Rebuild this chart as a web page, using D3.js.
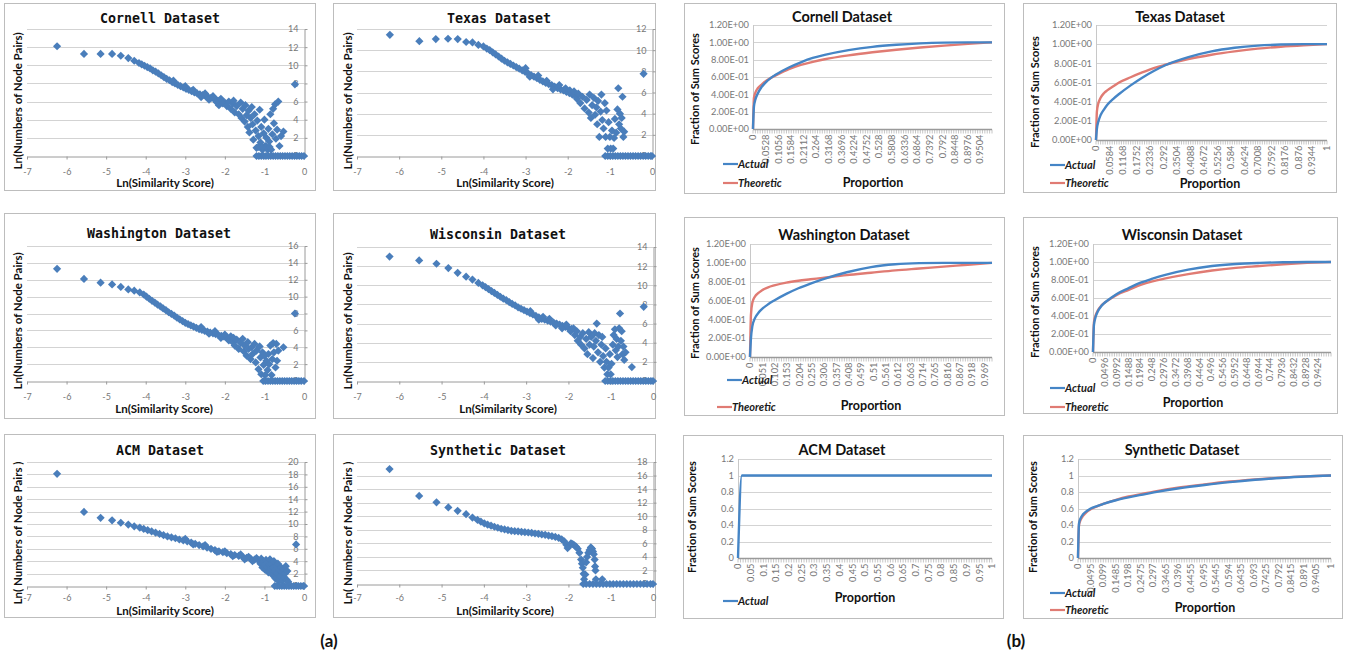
<!DOCTYPE html>
<html>
<head>
<meta charset="utf-8">
<script src="https://cdn.jsdelivr.net/npm/d3@7"></script>
<style>
  body { margin: 0; background: #fff; }
  text { font-family: Lato, "Open Sans", sans-serif; }
</style>
</head>
<body>
<svg id="fig" width="1356" height="659"></svg>
<script>
// ---- (a) scatter data: [ln(similarity score), ln(number of node pairs)] ----
const cornellPts = [
  [-6.24,12.1],[-5.56,11.25],[-5.14,11.25],[-4.85,11.25],[-4.63,11.05],[-4.44,10.8],[-4.29,10.5],
  [-4.17,10.25],[-4.1,10.1],[-4.03,9.95],[-3.96,9.8],[-3.89,9.65],[-3.82,9.45],[-3.75,9.3],[-3.68,9.1],
  [-3.61,8.9],[-3.54,8.7],[-3.47,8.5],[-3.4,8.35],[-3.33,8.15],[-3.26,8.0],[-3.19,7.85],[-3.12,7.7],
  [-3.05,7.55],[-2.98,7.4],[-2.91,7.3],[-2.84,7.15],[-2.77,7.0],[-2.7,6.9],[-2.63,6.8],[-2.56,6.7],
  [-2.49,6.6],[-2.42,6.5],[-2.35,6.4],[-2.28,6.3],[-2.21,6.2],[-2.14,6.1],[-2.07,6.0],[-2.0,5.9],
  [-3.3,8.3],[-3.0,7.7],[-2.8,7.3],[-2.6,6.5],[-2.5,6.9],[-2.4,6.2],[-2.3,6.6],[-2.2,5.9],[-2.1,6.3],
  [-2.15,5.6],[-2.05,5.8],[-1.95,5.5],[-1.9,6.0],[-1.85,5.2],[-1.8,5.8],[-1.78,6.1],[-1.75,4.8],
  [-1.7,5.5],[-1.65,4.6],[-1.6,5.9],[-1.58,4.2],[-1.55,5.2],[-1.5,3.8],[-1.48,5.6],[-1.45,4.5],
  [-1.42,3.2],[-1.4,5.0],[-1.38,2.6],[-1.35,4.2],[-1.32,5.4],[-1.3,3.5],[-1.28,1.8],[-1.25,4.6],
  [-1.22,2.8],[-1.2,0.9],[-1.18,3.9],[-1.15,2.2],[-1.12,5.1],[-1.1,1.5],[-1.08,3.2],[-1.05,0.7],
  [-1.02,2.5],[-1.0,4.0],[-0.98,1.1],[-0.95,2.0],[-0.92,0.7],[-0.9,3.0],[-0.88,1.6],[-0.85,4.6],
  [-0.83,0.7],[-0.8,2.4],[-0.78,5.2],[-0.76,3.6],[-0.73,5.7],[-0.71,1.9],[-0.68,2.9],[-0.65,6.0],
  [-0.62,1.1],[-0.58,2.2],[-0.52,2.7],[-1.15,1.0],[-1.05,1.0],[-0.95,1.0],[-0.87,1.0],[-0.23,7.9]
];
const cornellZeros = [-1.2,-1.14,-1.08,-1.02,-0.96,-0.9,-0.84,-0.78,-0.72,-0.66,-0.6,-0.54,-0.48,-0.42,-0.36,-0.3,-0.24,-0.18,-0.12,-0.06,0];

const texasPts = [
  [-6.22,11.45],[-5.52,10.85],[-5.13,11.05],[-4.84,11.08],[-4.61,11.05],[-4.41,10.77],[-4.26,10.73],
  [-4.12,10.5],[-4.0,10.35],[-3.92,10.15],[-3.85,10.0],[-3.78,9.8],[-3.71,9.6],[-3.64,9.4],[-3.57,9.2],
  [-3.5,9.0],[-3.43,8.85],[-3.36,8.7],[-3.29,8.55],[-3.22,8.4],[-3.15,8.25],[-3.08,8.1],[-3.01,7.95],
  [-2.94,7.8],[-2.87,7.65],[-2.8,7.5],[-2.73,7.35],[-2.66,7.2],[-2.59,7.05],[-2.52,6.9],[-2.45,6.8],
  [-2.38,6.7],[-2.31,6.55],[-2.24,6.4],[-2.17,6.3],[-2.1,6.2],[-2.03,6.05],[-1.96,5.95],[-1.89,5.8],
  [-1.82,5.7],[-3.0,8.3],[-2.9,7.5],[-2.7,7.6],[-2.5,7.1],[-2.35,6.3],[-2.2,6.7],[-2.05,6.4],
  [-1.95,6.2],[-1.85,6.1],[-1.78,5.4],[-1.75,5.9],[-1.7,5.0],[-1.65,5.6],[-1.6,4.5],[-1.55,5.3],
  [-1.5,4.1],[-1.48,5.8],[-1.45,3.6],[-1.42,4.8],[-1.38,5.5],[-1.35,3.9],[-1.32,4.6],[-1.3,3.0],
  [-1.28,5.2],[-1.25,1.8],[-1.22,4.2],[-1.2,5.8],[-1.18,3.4],[-1.15,2.6],[-1.12,5.0],[-1.1,1.8],
  [-1.08,4.3],[-1.05,0.7],[-1.03,3.2],[-1.0,1.8],[-0.98,0.7],[-0.95,2.4],[-0.92,0.7],[-0.9,1.7],
  [-0.88,3.5],[-0.85,2.2],[-0.82,4.4],[-0.8,6.4],[-0.78,3.0],[-0.76,4.0],[-0.74,2.6],[-0.72,3.6],
  [-0.7,5.6],[-0.68,1.8],[-0.66,2.3],[-0.2,7.76]
];
const texasZeros = [-1.11,-1.05,-0.99,-0.93,-0.87,-0.81,-0.75,-0.69,-0.63,-0.57,-0.51,-0.45,-0.39,-0.33,-0.27,-0.21,-0.15,-0.09,-0.03,0];

const washPts = [
  [-6.24,13.3],[-5.56,12.1],[-5.14,11.65],[-4.85,11.45],[-4.63,11.15],[-4.44,10.85],[-4.29,10.7],
  [-4.15,10.5],[-4.05,10.25],[-3.98,10.0],[-3.91,9.75],[-3.84,9.5],[-3.77,9.3],[-3.7,9.05],[-3.63,8.85],
  [-3.56,8.6],[-3.49,8.4],[-3.42,8.15],[-3.35,7.95],[-3.28,7.75],[-3.21,7.5],[-3.14,7.3],[-3.07,7.1],
  [-3.0,6.9],[-2.93,6.75],[-2.86,6.6],[-2.79,6.45],[-2.72,6.3],[-2.65,6.15],[-2.58,6.05],[-2.51,5.95],
  [-2.44,5.85],[-2.37,5.75],[-2.3,5.65],[-2.23,5.55],[-2.16,5.45],[-2.09,5.35],[-2.02,5.25],[-1.95,5.15],
  [-2.6,6.4],[-2.4,5.6],[-2.25,5.9],[-2.1,5.1],[-2.0,5.5],[-1.9,4.8],[-1.85,5.3],
  [-1.8,4.6],[-1.78,5.1],[-1.75,4.2],[-1.7,4.9],[-1.65,3.8],[-1.6,4.5],[-1.55,5.0],[-1.52,3.5],
  [-1.5,4.2],[-1.45,3.0],[-1.42,4.6],[-1.4,3.8],[-1.35,2.6],[-1.32,4.0],[-1.3,3.2],[-1.25,4.4],
  [-1.22,2.2],[-1.2,3.6],[-1.15,1.4],[-1.12,4.1],[-1.1,2.8],[-1.08,0.8],[-1.05,3.4],[-1.02,1.9],
  [-1.0,3.0],[-0.98,0.7],[-0.95,2.4],[-0.92,1.3],[-0.9,3.2],[-0.88,2.0],[-0.85,4.2],[-0.82,0.7],
  [-0.8,2.6],[-0.78,4.5],[-0.76,3.4],[-0.72,1.6],[-0.7,4.4],[-0.68,2.4],[-0.65,3.6],[-0.52,4.0],
  [-0.23,8.0]
];
const washZeros = [-1.03,-0.97,-0.91,-0.85,-0.79,-0.73,-0.67,-0.61,-0.55,-0.49,-0.43,-0.37,-0.31,-0.25,-0.19,-0.13,-0.07,0];

const wiscPts = [
  [-6.23,13.0],[-5.53,12.6],[-5.12,12.25],[-4.84,11.8],[-4.62,11.3],[-4.42,10.9],[-4.27,10.6],
  [-4.13,10.25],[-4.03,10.0],[-3.96,9.8],[-3.89,9.6],[-3.82,9.4],[-3.75,9.2],[-3.68,9.0],[-3.61,8.8],
  [-3.54,8.6],[-3.47,8.45],[-3.4,8.25],[-3.33,8.05],[-3.26,7.9],[-3.19,7.7],[-3.12,7.55],[-3.05,7.4],
  [-2.98,7.25],[-2.91,7.1],[-2.84,6.95],[-2.77,6.8],[-2.7,6.65],[-2.63,6.5],[-2.56,6.4],[-2.49,6.3],
  [-2.42,6.2],[-2.35,6.1],[-2.28,6.0],[-2.21,5.9],[-2.14,5.75],[-2.07,5.65],[-2.0,5.55],[-1.93,5.45],
  [-2.9,7.3],[-2.7,6.4],[-2.6,6.7],[-2.45,6.5],[-2.3,5.8],[-2.15,5.5],[-2.05,5.9],[-1.95,5.2],[-1.88,5.5],
  [-1.85,4.8],[-1.8,5.2],[-1.78,4.2],[-1.72,4.6],[-1.7,3.8],[-1.66,5.0],[-1.62,3.4],[-1.58,4.4],
  [-1.55,2.8],[-1.52,5.1],[-1.5,3.8],[-1.46,4.6],[-1.42,2.4],[-1.4,3.6],[-1.38,5.0],[-1.35,4.2],
  [-1.33,6.0],[-1.3,3.0],[-1.28,4.8],[-1.25,2.0],[-1.22,3.8],[-1.2,4.6],[-1.18,2.6],[-1.15,1.4],
  [-1.12,3.4],[-1.1,2.0],[-1.08,0.7],[-1.05,1.4],[-1.02,2.8],[-1.0,0.7],[-0.98,1.8],[-0.95,3.8],
  [-0.93,4.8],[-0.9,5.4],[-0.88,3.2],[-0.86,4.4],[-0.84,2.5],[-0.82,3.6],[-0.8,5.5],[-0.78,7.05],
  [-0.76,4.2],[-0.74,5.2],[-0.72,2.8],[-0.7,3.6],[-0.68,2.2],[-0.65,3.0],[-0.5,1.45],[-0.22,7.75]
];
const wiscZeros = [-1.13,-1.07,-1.01,-0.95,-0.89,-0.83,-0.77,-0.71,-0.65,-0.59,-0.53,-0.47,-0.41,-0.35,-0.29,-0.23,-0.17,-0.11,-0.05,0];

const acmPts = [
  [-6.24,18.1],[-5.56,11.95],[-5.14,11.0],[-4.85,10.6],[-4.63,10.2],[-4.44,9.9],[-4.29,9.62],
  [-4.15,9.4],[-4.05,9.2],[-3.95,9.0],[-3.85,8.8],[-3.75,8.6],[-3.65,8.4],[-3.55,8.2],[-3.45,8.0],
  [-3.35,7.85],[-3.25,7.7],[-3.15,7.5],[-3.05,7.35],[-2.95,7.2],[-2.85,7.0],[-2.75,6.8],[-2.65,6.6],
  [-2.55,6.4],[-2.45,6.2],[-2.35,6.0],[-2.25,5.8],[-2.15,5.6],[-2.05,5.45],[-1.95,5.3],[-1.85,5.15],
  [-1.75,5.0],[-1.65,4.85],[-1.55,4.7],[-1.45,4.55],[-1.35,4.4],[-1.25,4.25],[-1.15,4.1],
  [-3.0,7.6],[-2.8,6.7],[-2.5,6.6],[-2.2,5.5],[-2.0,5.6],[-1.8,4.8],[-1.6,5.1],[-1.5,4.3],[-1.4,4.7],
  [-1.3,4.0],[-1.2,4.5],[-1.1,3.6],[-1.08,4.4],[-1.05,3.0],[-1.02,4.0],[-1.0,3.4],[-0.98,2.6],
  [-0.96,4.2],[-0.94,3.0],[-0.92,3.8],[-0.9,2.2],[-0.88,3.4],[-0.86,4.3],[-0.84,2.8],[-0.82,3.6],
  [-0.8,1.8],[-0.78,3.0],[-0.76,4.0],[-0.74,2.4],[-0.72,1.2],[-0.7,3.2],[-0.68,2.0],[-0.66,3.6],
  [-0.64,0.8],[-0.62,2.6],[-0.6,1.6],[-0.58,3.0],[-0.56,2.2],[-0.54,0.9],[-0.52,2.8],[-0.5,1.4],
  [-0.48,2.0],[-0.46,3.2],[-0.44,1.0],[-0.42,2.4],[-0.4,0.7],[-0.2,6.7]
];
const acmZeros = [-0.74,-0.68,-0.62,-0.56,-0.5,-0.44,-0.38,-0.32,-0.26,-0.2,-0.14,-0.08,-0.02,0];

const synthPts = [
  [-6.23,16.95],[-5.53,13.0],[-5.12,12.05],[-4.84,11.3],[-4.62,10.8],[-4.42,10.3],[-4.27,9.8],
  [-4.15,9.45],[-4.07,9.2],[-3.99,8.95],[-3.91,8.75],[-3.83,8.6],[-3.75,8.45],[-3.67,8.3],[-3.59,8.15],
  [-3.51,8.05],[-3.43,7.95],[-3.35,7.85],[-3.27,7.8],[-3.19,7.75],[-3.11,7.7],[-3.03,7.65],[-2.95,7.6],
  [-2.87,7.55],[-2.79,7.45],[-2.71,7.4],[-2.63,7.3],[-2.55,7.25],[-2.47,7.15],[-2.39,7.05],[-2.31,6.95],
  [-2.23,6.8],[-2.16,6.6],[-2.1,6.3],[-2.05,5.8],[-2.02,5.3],[-1.98,5.6],[-1.94,6.0],[-1.9,5.9],
  [-1.86,5.7],[-1.82,5.5],[-1.78,5.2],[-1.74,4.6],[-1.7,3.6],[-1.68,3.0],[-1.66,2.4],[-1.64,1.5],
  [-1.63,0.7],[-1.6,1.4],[-1.58,3.2],[-1.56,4.0],[-1.53,4.6],[-1.5,5.0],[-1.47,5.4],[-1.44,5.2],
  [-1.42,4.8],[-1.4,4.4],[-1.38,3.6],[-1.37,2.6],[-1.36,2.0],[-1.35,0.7],[-1.2,0.7]
];
const synthZeros = [-1.65,-1.58,-1.5,-1.42,-1.34,-1.26,-1.18,-1.1,-1.02,-0.94,-0.86,-0.78,-0.7,-0.62,-0.54,-0.46,-0.38,-0.3,-0.22,-0.14,-0.06,0];

const scatterXTicks = [-7,-6,-5,-4,-3,-2,-1,0];

// ---- (b) cumulative curves: fraction of sum scores vs proportion ----
const propX = [0, 0.004, 0.01, 0.02, 0.035, 0.05, 0.075, 0.1, 0.15, 0.2, 0.25, 0.3, 0.4, 0.5, 0.6, 0.7, 0.8, 0.9, 1];
const cornellActual    = [0, 0.26, 0.34, 0.41, 0.48, 0.53, 0.59, 0.635, 0.71, 0.77, 0.82, 0.855, 0.91, 0.948, 0.972, 0.988, 0.997, 1.0, 1.0];
const cornellTheoretic = [0, 0.36, 0.42, 0.47, 0.51, 0.545, 0.59, 0.625, 0.69, 0.74, 0.775, 0.805, 0.85, 0.885, 0.915, 0.94, 0.962, 0.982, 1.0];
const texasActual      = [0, 0.12, 0.19, 0.26, 0.32, 0.37, 0.43, 0.48, 0.57, 0.65, 0.72, 0.78, 0.865, 0.925, 0.962, 0.985, 0.996, 1.0, 1.0];
const texasTheoretic   = [0, 0.3, 0.38, 0.44, 0.49, 0.52, 0.56, 0.6, 0.655, 0.705, 0.75, 0.785, 0.845, 0.89, 0.925, 0.953, 0.973, 0.988, 1.0];
const washActual       = [0, 0.2, 0.33, 0.41, 0.47, 0.51, 0.56, 0.6, 0.67, 0.73, 0.78, 0.825, 0.9, 0.955, 0.985, 0.997, 1.0, 1.0, 1.0];
const washTheoretic    = [0, 0.45, 0.58, 0.64, 0.68, 0.71, 0.74, 0.76, 0.79, 0.81, 0.825, 0.84, 0.87, 0.895, 0.92, 0.94, 0.96, 0.98, 1.0];
const wiscActual       = [0, 0.3, 0.38, 0.45, 0.51, 0.55, 0.6, 0.645, 0.71, 0.77, 0.815, 0.855, 0.915, 0.955, 0.978, 0.99, 0.997, 1.0, 1.0];
const wiscTheoretic    = [0, 0.33, 0.4, 0.46, 0.515, 0.55, 0.595, 0.635, 0.69, 0.745, 0.785, 0.815, 0.865, 0.905, 0.935, 0.955, 0.975, 0.99, 1.0];
const synthActual      = [0, 0.42, 0.48, 0.53, 0.57, 0.6, 0.63, 0.655, 0.7, 0.735, 0.765, 0.795, 0.845, 0.885, 0.92, 0.948, 0.97, 0.988, 1.0];
const synthTheoretic   = [0, 0.4, 0.46, 0.51, 0.56, 0.59, 0.625, 0.655, 0.705, 0.745, 0.775, 0.805, 0.855, 0.893, 0.927, 0.953, 0.974, 0.99, 1.0];
const acmX      = [0, 0.015, 1];
const acmActual = [0, 1, 1];

const cornellTicks = ["0","0.0528","0.1056","0.1584","0.2112","0.264","0.3168","0.3696","0.4224","0.4752","0.528","0.5808","0.6336","0.6864","0.7392","0.792","0.8448","0.8976","0.9504"];
const texasTicks = ["0","0.0584","0.1168","0.1752","0.2336","0.292","0.3504","0.4088","0.4672","0.5256","0.584","0.6424","0.7008","0.7592","0.8176","0.876","0.9344","1"];
const washTicks = ["0","0.051","0.102","0.153","0.204","0.255","0.306","0.357","0.408","0.459","0.51","0.561","0.612","0.663","0.714","0.765","0.816","0.867","0.918","0.969"];
const wiscTicks = ["0","0.0496","0.0992","0.1488","0.1984","0.248","0.2976","0.3472","0.3968","0.4464","0.496","0.5456","0.5952","0.6448","0.6944","0.744","0.7936","0.8432","0.8928","0.9424"];
const acmTicks = ["0","0.05","0.1","0.15","0.2","0.25","0.3","0.35","0.4","0.45","0.5","0.55","0.6","0.65","0.7","0.75","0.8","0.85","0.9","0.95","1"];
const synthTicks = ["0","0.0495","0.099","0.1485","0.198","0.2475","0.297","0.3465","0.396","0.4455","0.495","0.5445","0.594","0.6435","0.693","0.7425","0.792","0.8415","0.891","0.9405","1"];
const fracTicks = [0, 0.2, 0.4, 0.6, 0.8, 1, 1.2];

const BLUE = "#4a7ebb", LINE_BLUE = "#4585c6", LINE_RED = "#e07b73";
const GRID = "#d3d3d3", FRAME = "#bdbdbd", TICK_TXT = "#777";

const svg = d3.select("#fig");

function frame(f) {
  svg.append("rect")
    .attr("x", f[0] + 0.5).attr("y", f[1] + 0.5)
    .attr("width", f[2] - f[0]).attr("height", f[3] - f[1])
    .attr("fill", "#fff").attr("stroke", FRAME);
}

// ---- scatter panels ----
const scatterPanels = [
  {title:"Cornell Dataset", pts:cornellPts, zeros:cornellZeros, yMax:14, frame:[4,3,315,190],
   x0:27, x1:304, yTop:29, yBot:156, tx:160, ty:23, yl:[18,101], xl:[165,187], pad:9, ylab:"Ln(Numbers of Node Pairs)"},
  {title:"Texas Dataset", pts:texasPts, zeros:texasZeros, yMax:12, frame:[333,3,655,190],
   x0:357, x1:652, yTop:29, yBot:156, tx:499, ty:23, yl:[348,101], xl:[505,187], pad:9, ylab:"Ln(Numbers of Node Pairs)"},
  {title:"Washington Dataset", pts:washPts, zeros:washZeros, yMax:16, frame:[4,213,315,418],
   x0:27, x1:304, yTop:246, yBot:381, tx:159, ty:238, yl:[18,321], xl:[164,413], pad:9, ylab:"Ln(Numbers of Node Pairs)"},
  {title:"Wisconsin Dataset", pts:wiscPts, zeros:wiscZeros, yMax:14, frame:[333,213,655,418],
   x0:357, x1:653, yTop:247, yBot:381, tx:498, ty:239, yl:[348,321], xl:[508,413], pad:9, ylab:"Ln(Numbers of Node Pairs)"},
  {title:"ACM Dataset", pts:acmPts, zeros:acmZeros, yMax:20, frame:[4,434,315,617],
   x0:27, x1:304, yTop:462, yBot:586, tx:160, ty:455, yl:[18,533], xl:[165,615], pad:5, ylab:"Ln( Numbers of Node Pairs )"},
  {title:"Synthetic Dataset", pts:synthPts, zeros:synthZeros, yMax:18, frame:[333,434,655,617],
   x0:357, x1:653, yTop:462, yBot:584, tx:498, ty:455, yl:[348,533], xl:[505,615], pad:7, ylab:"Ln( Numbers of Node Pairs )"}
];

const diamond = r => `M0,${-r}L${r},0L0,${r}L${-r},0Z`;

scatterPanels.forEach(p => {
  frame(p.frame);
  const g = svg.append("g");
  const x = d3.scaleLinear().domain([-7, 0]).range([p.x0, p.x1]);
  const y = d3.scaleLinear().domain([0, p.yMax]).range([p.yBot, p.yTop]);
  const yTicks = d3.range(0, p.yMax + 1, 2);

  g.append("g").selectAll("line").data(yTicks.slice(1)).join("line")
    .attr("x1", x(-7)).attr("x2", x(0))
    .attr("y1", d => Math.round(y(d)) + 0.5).attr("y2", d => Math.round(y(d)) + 0.5)
    .attr("stroke", GRID);

  const xa = g.append("g").attr("transform", `translate(0,${Math.round(y(0)) + 0.5})`)
    .call(d3.axisBottom(x).tickValues(scatterXTicks).tickFormat(d => String(d))
      .tickSizeInner(3).tickSizeOuter(0).tickPadding(p.pad));
  const ya = g.append("g").attr("transform", `translate(${Math.round(x(0)) + 0.5},0)`)
    .call(d3.axisLeft(y).tickValues(yTicks).tickFormat(d => String(d))
      .tickSizeInner(-3).tickSizeOuter(0).tickPadding(6));
  [xa, ya].forEach(a => {
    a.select(".domain").attr("stroke", "#9a9a9a");
    a.selectAll(".tick line").attr("stroke", "#9a9a9a");
    a.selectAll("text").attr("fill", TICK_TXT).style("font-size", "9px");
  });

  const all = p.pts.concat(p.zeros.map(v => [v, 0]));
  g.append("g").selectAll("path").data(all).join("path")
    .attr("transform", d => `translate(${x(d[0])},${y(d[1])})`)
    .attr("d", diamond(4.1))
    .attr("fill", BLUE);

  g.append("text").attr("x", p.tx).attr("y", p.ty).attr("text-anchor", "middle")
    .style("font-family", "'DejaVu Sans Mono', monospace").style("font-weight", "bold")
    .style("font-size", "13.3px").attr("fill", "#111").text(p.title);
  g.append("text").attr("transform", `translate(${p.yl[0]},${p.yl[1]}) rotate(-90)`)
    .attr("text-anchor", "middle").attr("dy", "0.35em")
    .style("font-weight", "bold").style("font-size", "11.5px").attr("fill", "#111").text(p.ylab);
  g.append("text").attr("x", p.xl[0]).attr("y", p.xl[1]).attr("text-anchor", "middle")
    .style("font-weight", "bold").style("font-size", "11.5px").attr("fill", "#111").text("Ln(Similarity Score)");
});

// ---- line panels ----
const sci = v => {
  const [m, e] = v.toExponential(2).split("e");
  const n = Math.abs(+e);
  return m + "E" + (+e < 0 ? "-" : "+") + (n < 10 ? "0" : "") + n;
};
const plain = v => String(+v.toFixed(1));

const linePanels = [
  {title:"Cornell Dataset", xs:propX, series:[cornellActual, cornellTheoretic], ticks:cornellTicks, fmt:sci,
   frame:[684,3,1004,193], x0:753, x1:992, yTop:25, yBot:129, tx:842, ty:22, yl:[695,89], px:[873,187],
   legend:[[723,164],[723,183]]},
  {title:"Texas Dataset", xs:propX, series:[texasActual, texasTheoretic], ticks:texasTicks, fmt:sci,
   frame:[1023,3,1336,192], x0:1096, x1:1327, yTop:25, yBot:140, tx:1180, ty:22, yl:[1035,92], px:[1210,188],
   legend:[[1050,165],[1050,183]]},
  {title:"Washington Dataset", xs:propX, series:[washActual, washTheoretic], ticks:washTicks, fmt:sci,
   frame:[684,217,1004,415], x0:750, x1:992, yTop:244, yBot:357, tx:844, ty:240, yl:[695,303], px:[871,410],
   legend:[[727,380],[717,407]]},
  {title:"Wisconsin Dataset", xs:propX, series:[wiscActual, wiscTheoretic], ticks:wiscTicks, fmt:sci,
   frame:[1023,217,1337,413], x0:1093, x1:1331, yTop:244, yBot:352, tx:1182, ty:240, yl:[1035,302], px:[1193,407],
   legend:[[1050,388],[1050,407]]},
  {title:"ACM Dataset", xs:acmX, series:[acmActual], ticks:acmTicks, fmt:plain,
   frame:[683,435,1003,618], x0:738, x1:992, yTop:459, yBot:558, tx:842, ty:455, yl:[692,517], px:[865,602],
   legend:[[723,601]]},
  {title:"Synthetic Dataset", xs:propX, series:[synthActual, synthTheoretic], ticks:synthTicks, fmt:plain,
   frame:[1023,435,1342,618], x0:1078, x1:1331, yTop:459, yBot:558, tx:1182, ty:455, yl:[1033,517], px:[1205,612],
   legend:[[1050,593],[1050,610]]}
];
const seriesNames = ["Actual", "Theoretic"];
const seriesColors = [LINE_BLUE, LINE_RED];
const minorTicks = d3.range(0, 101).map(i => i / 100);

linePanels.forEach(p => {
  frame(p.frame);
  const g = svg.append("g");
  const x = d3.scaleLinear().domain([0, 1]).range([p.x0, p.x1]);
  const y = d3.scaleLinear().domain([0, 1.2]).range([p.yBot, p.yTop]);
  const y0 = Math.round(y(0)) + 0.5;

  g.append("g").selectAll("line").data(fracTicks.slice(1)).join("line")
    .attr("x1", x(0)).attr("x2", x(1))
    .attr("y1", d => Math.round(y(d)) + 0.5).attr("y2", d => Math.round(y(d)) + 0.5)
    .attr("stroke", GRID);
  g.append("line").attr("x1", Math.round(x(0)) + 0.5).attr("x2", Math.round(x(0)) + 0.5)
    .attr("y1", y(1.2)).attr("y2", y0).attr("stroke", "#c8c8c8");

  // category tick marks along the x axis
  g.append("g").selectAll("line").data(minorTicks).join("line")
    .attr("x1", d => x(d)).attr("x2", d => x(d)).attr("y1", y0).attr("y2", y0 + 4)
    .attr("stroke", "#b8b8b8").attr("stroke-width", 0.8);
  g.append("line").attr("x1", x(0)).attr("x2", x(1)).attr("y1", y0).attr("y2", y0)
    .attr("stroke", "#9a9a9a").attr("stroke-width", 1.5);

  g.append("g").selectAll("text").data(fracTicks).join("text")
    .attr("x", x(0) - 4).attr("y", d => y(d)).attr("dy", "0.35em").attr("text-anchor", "end")
    .attr("fill", TICK_TXT).style("font-size", "9.3px").text(d => p.fmt(d));
  g.append("g").selectAll("text").data(p.ticks).join("text")
    .attr("transform", d => `translate(${x(+d)},${y0 + 5}) rotate(-90)`)
    .attr("dy", "0.35em").attr("text-anchor", "end")
    .attr("fill", TICK_TXT).style("font-size", "9.3px").text(d => d);

  const line = d3.line().x(d => x(d[0])).y(d => y(d[1])).curve(d3.curveMonotoneX);
  // draw theoretic first so actual sits on top
  p.series.map((s, i) => i).reverse().forEach(i => {
    g.append("path").datum(p.xs.map((v, j) => [v, p.series[i][j]]))
      .attr("d", line).attr("fill", "none")
      .attr("stroke", seriesColors[i]).attr("stroke-width", 2.4);
  });

  p.legend.forEach((pos, i) => {
    g.append("line").attr("x1", pos[0]).attr("x2", pos[0] + 15).attr("y1", pos[1]).attr("y2", pos[1])
      .attr("stroke", seriesColors[i]).attr("stroke-width", 2.2);
    g.append("text").attr("x", pos[0] + 15).attr("y", pos[1]).attr("dy", "0.35em")
      .style("font-weight", "bold").style("font-style", "italic").style("font-size", "11px")
      .attr("fill", "#1a1a1a").text(seriesNames[i]);
  });

  g.append("text").attr("x", p.tx).attr("y", p.ty).attr("text-anchor", "middle")
    .style("font-weight", "bold").style("font-size", "14.5px").attr("fill", "#111").text(p.title);
  g.append("text").attr("transform", `translate(${p.yl[0]},${p.yl[1]}) rotate(-90)`)
    .attr("text-anchor", "middle").attr("dy", "0.35em")
    .style("font-weight", "bold").style("font-size", "11px").attr("fill", "#111").text("Fraction of Sum Scores");
  g.append("text").attr("x", p.px[0]).attr("y", p.px[1]).attr("text-anchor", "middle")
    .style("font-weight", "bold").style("font-size", "12.5px").attr("fill", "#111").text("Proportion");
});

svg.append("text").attr("x", 329).attr("y", 647).attr("text-anchor", "middle")
  .style("font-weight", "bold").style("font-size", "17px").attr("fill", "#111").text("(a)");
svg.append("text").attr("x", 1016).attr("y", 647).attr("text-anchor", "middle")
  .style("font-weight", "bold").style("font-size", "17px").attr("fill", "#111").text("(b)");
</script>
</body>
</html>
